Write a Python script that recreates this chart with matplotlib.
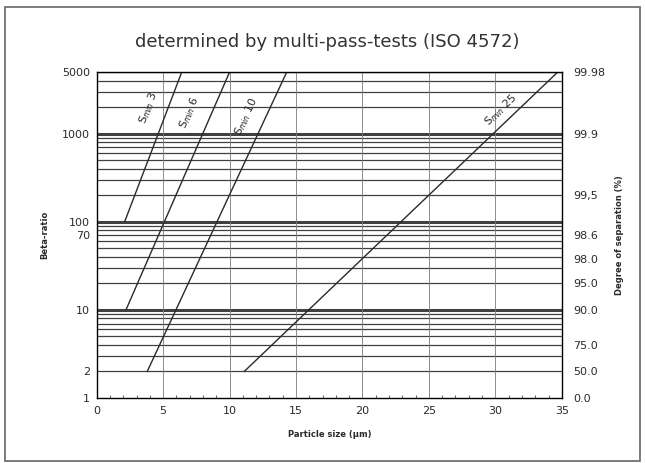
import numpy as np
import matplotlib
matplotlib.use('Agg')
from matplotlib import pyplot as plt
from matplotlib.patches import Rectangle

# Smin curves (particle size in um vs beta ratio)
smin_labels = ['3', '6', '10', '25']
smin_x = [[2.1, 6.4], [2.2, 10.0], [3.8, 14.3], [11.1, 34.7]]
smin_beta = [[100, 5000], [10, 5000], [2, 5000], [2, 5000]]

# where the curve labels sit, just left of each line
label_x = [3.9, 7.0, 11.3, 30.4]
label_beta = [1950, 1720, 1550, 1850]

left_ticks = [1, 2, 10, 70, 100, 1000, 5000]
left_labels = ['1', '2', '10', '70', '100', '1000', '5000']
right_ticks = [1, 2, 4, 10, 20, 38, 70, 200, 1000, 5000]
right_labels = ['0.0', '50.0', '75.0', '90.0', '95.0', '98.0', '98.6', '99,5', '99.9', '99.98']
x_ticks = [0, 5, 10, 15, 20, 25, 30, 35]

ink = '#2a2a2a'
grid_ink = '#404040'

fig = plt.figure(figsize=(6.45, 4.63), dpi=100)
ax = fig.add_axes([0.150, 0.1404, 0.721, 0.7041])
ax.set_yscale('log')
ax.set_xlim(0, 35)
ax.set_ylim(1, 5000)

# horizontal log grid, decades drawn heavier
for dec in [1, 10, 100, 1000]:
    for m in range(1, 10):
        v = dec * m
        if v <= 1 or v > 5000:
            continue
        lw = 2.2 if m == 1 else 0.9
        ax.axhline(v, color=grid_ink, lw=lw, zorder=1)
for x in x_ticks[1:-1]:
    ax.axvline(x, color='#7a7a7a', lw=0.6, zorder=1)

for xs, bs in zip(smin_x, smin_beta):
    ax.plot(xs, bs, color=ink, lw=1.0, zorder=3)

# rotate labels to follow each line on screen
for xs, bs, lab, lx, lb in zip(smin_x, smin_beta, smin_labels, label_x, label_beta):
    p0 = ax.transData.transform((xs[0], bs[0]))
    p1 = ax.transData.transform((xs[1], bs[1]))
    ang = np.degrees(np.arctan2(p1[1] - p0[1], p1[0] - p0[0]))
    ax.text(lx, lb, 'S$_{min}$ ' + lab, rotation=ang, fontsize=8, color=ink,
            ha='center', va='center', rotation_mode='anchor', zorder=4)

ax.set_xticks(x_ticks)
ax.set_xticklabels([str(x) for x in x_ticks])
ax.set_xticks(np.arange(0, 36, 1), minor=True)
ax.set_yticks(left_ticks)
ax.set_yticklabels(left_labels)
ax.yaxis.set_minor_locator(matplotlib.ticker.NullLocator())
ax.tick_params(axis='both', which='major', length=0, labelsize=8, colors=ink, pad=5)
ax.tick_params(axis='x', which='minor', direction='in', length=2, color=grid_ink)
ax.tick_params(axis='x', which='major', pad=6)
for sp in ax.spines.values():
    sp.set_color(grid_ink)
    sp.set_linewidth(1.0)

ax2 = ax.twinx()
ax2.set_yscale('log')
ax2.set_ylim(1, 5000)
ax2.set_yticks(right_ticks)
ax2.set_yticklabels(right_labels)
ax2.yaxis.set_minor_locator(matplotlib.ticker.NullLocator())
ax2.tick_params(axis='y', length=0, labelsize=8, colors=ink, pad=8)

ax.set_xlabel('Particle size (µm)', fontsize=6, fontweight='bold', color=ink, labelpad=10)
ax.set_ylabel('Beta-ratio', fontsize=6, fontweight='bold', color=ink, labelpad=9)
ax2.set_ylabel('Degree of separation (%)', fontsize=6, fontweight='bold', color=ink,
               rotation=90, labelpad=7)

fig.text(0.507, 0.909, 'determined by multi-pass-tests (ISO 4572)', fontsize=13,
         color='#333333', ha='center', va='center')

# outer frame of the scanned figure
fig.patches.append(Rectangle((0.008, 0.004), 0.985, 0.981, transform=fig.transFigure,
                             fill=False, edgecolor='#666666', lw=1.2))

fig.savefig('out.png', dpi=100)
